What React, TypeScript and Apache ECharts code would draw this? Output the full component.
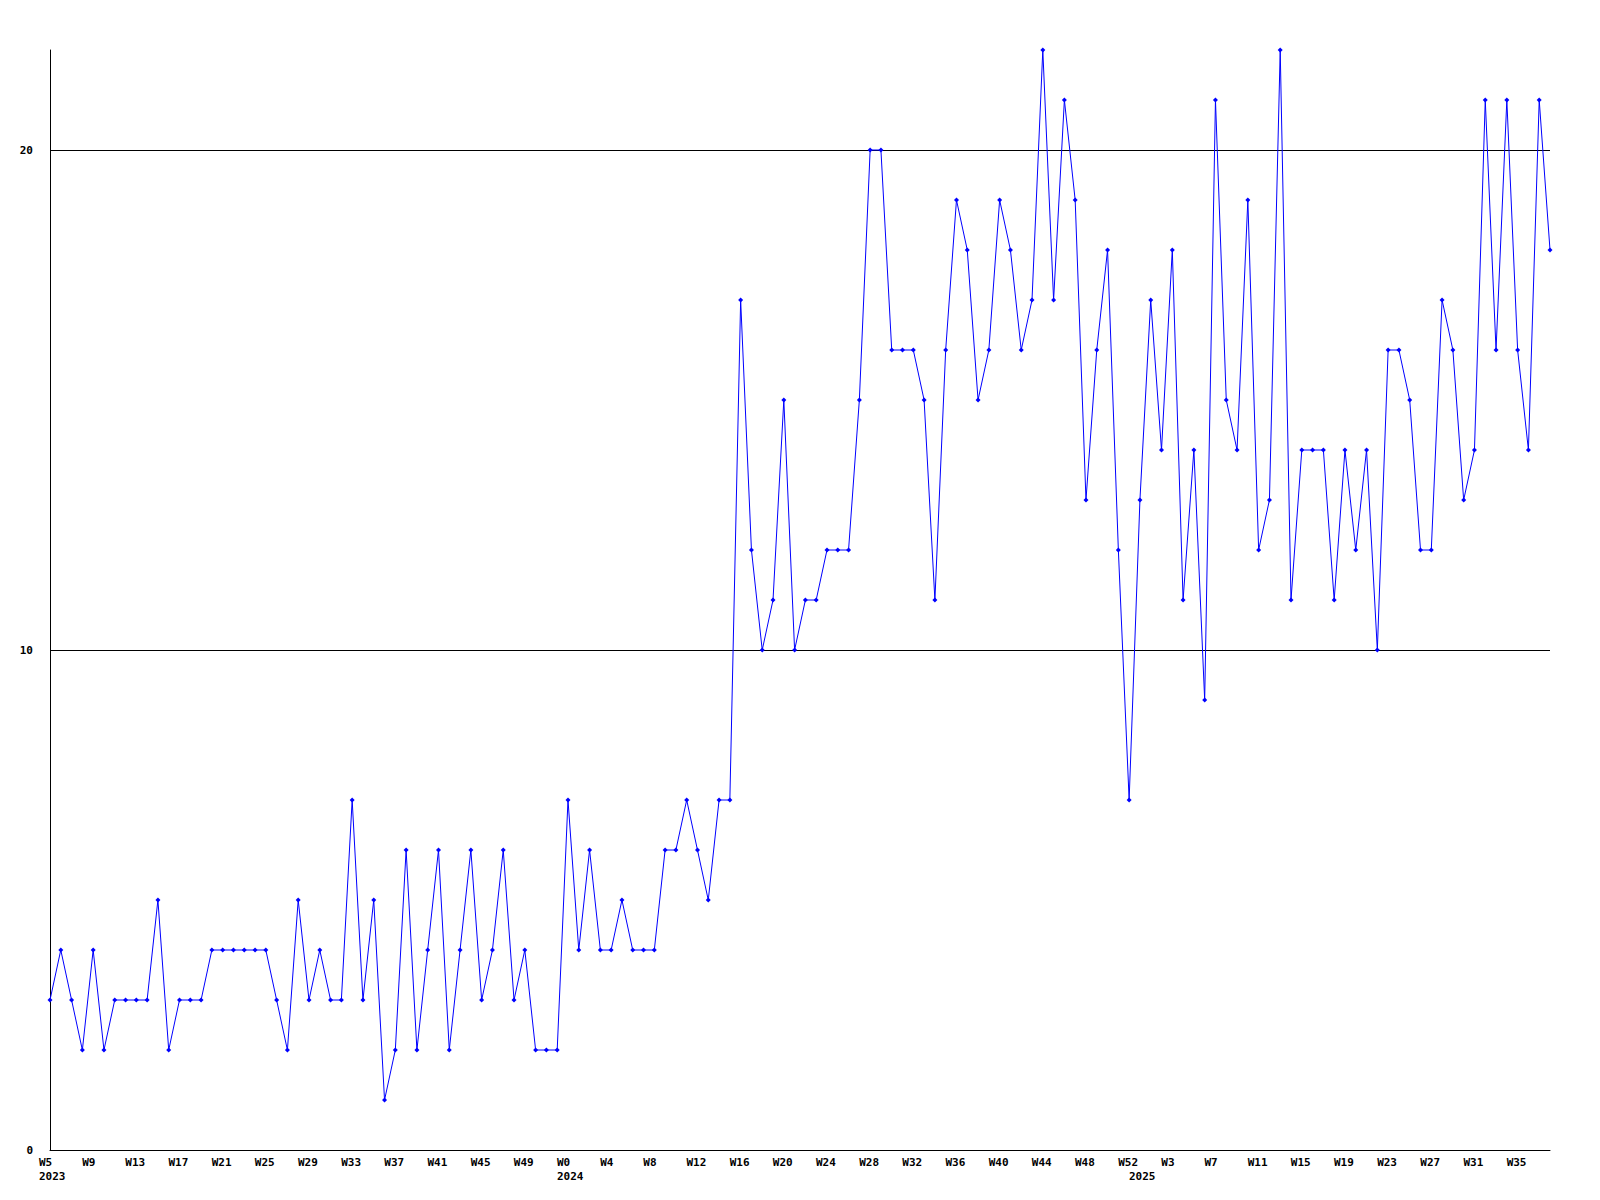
import React, { useEffect, useRef } from "react";
import * as echarts from "echarts";

// Week labels per year (first and last week shown in the chart)
const YEARS = [2023, 2024, 2025];
const FIRST_WEEK = [5, 0, 0];
const LAST_WEEK = [52, 52, 38];

// Weekly values
const values2023 = [
  3, 4, 3, 2, 4, 2, 3, 3, 3, 3, 5, 2, 3, 3, 3, 4, 4, 4, 4, 4, 4, 3, 2, 5,
  3, 4, 3, 3, 7, 3, 5, 1, 2, 6, 2, 4, 6, 2, 4, 6, 3, 4, 6, 3, 4, 2, 2, 2,
];
const values2024 = [
  7, 4, 6, 4, 4, 5, 4, 4, 4, 6, 6, 7, 6, 5, 7, 7, 17, 12, 10, 11, 15, 10, 11,
  11, 12, 12, 12, 15, 20, 20, 16, 16, 16, 15, 11, 16, 19, 18, 15, 16, 19, 18,
  16, 17, 22, 17, 21, 19, 13, 16, 18, 12, 7,
];
const values2025 = [
  13, 17, 14, 18, 11, 14, 9, 21, 15, 14, 19, 12, 13, 22, 11, 14, 14, 14, 11,
  14, 12, 14, 10, 16, 16, 15, 12, 12, 17, 16, 13, 14, 21, 16, 21, 16, 14, 21,
  18,
];

const Y_TICKS = [0, 10, 20];
const Y_MAX = 22;

export default function App() {
  const ref = useRef<HTMLDivElement>(null);

  useEffect(() => {
    if (!ref.current) return;
    const chart = echarts.init(ref.current, null, { renderer: "svg" });

    const categories: string[] = [];
    const yearLabel: string[] = [];
    YEARS.forEach((y, k) => {
      for (let w = FIRST_WEEK[k]; w <= LAST_WEEK[k]; w++) {
        categories.push("W" + w);
        yearLabel.push(w === FIRST_WEEK[k] ? String(y) : "");
      }
    });
    const data = [...values2023, ...values2024, ...values2025];

    const font = {
      fontFamily: "DejaVu Sans Mono",
      fontWeight: "bold" as const,
      fontSize: 11,
      color: "#000",
    };

    chart.setOption({
      animation: false,
      backgroundColor: "#fff",
      grid: { left: 50, right: 50, top: 50, bottom: 50, containLabel: false },
      xAxis: {
        type: "category",
        data: categories,
        boundaryGap: false,
        axisLine: { show: true, lineStyle: { color: "#000", width: 1 } },
        axisTick: { show: false },
        splitLine: { show: false },
        axisLabel: {
          ...font,
          align: "left",
          padding: [0, 0, 0, -11],
          margin: 5,
          lineHeight: 14,
          interval: (idx: number) =>
            idx % 4 === 0 || (yearLabel[idx] !== "" && idx % 4 !== 0),
          formatter: (val: string, idx: number) => {
            const yl = yearLabel[idx];
            if (idx % 4 === 0) return yl ? val + "\n" + yl : val;
            return yl ? "\n" + yl : "";
          },
        },
      },
      yAxis: {
        type: "value",
        min: Y_TICKS[0],
        max: Y_MAX,
        interval: Y_TICKS[1] - Y_TICKS[0],
        axisLine: { show: true, lineStyle: { color: "#000", width: 1 } },
        axisTick: { show: false },
        axisLabel: { ...font, margin: 17, showMaxLabel: false },
        splitLine: {
          show: true,
          showMaxLine: false,
          lineStyle: { color: "#000", width: 1 },
        },
      },
      series: [
        {
          type: "line",
          data,
          symbol: "diamond",
          symbolSize: 5,
          showSymbol: true,
          showAllSymbol: true,
          itemStyle: { color: "#0000ff" },
          lineStyle: { color: "#0000ff", width: 1 },
        },
      ],
    });

    return () => chart.dispose();
  }, []);

  return (
    <div
      ref={ref}
      style={{ position: "absolute", left: 0, top: 0, width: 1600, height: 1200 }}
    />
  );
}
